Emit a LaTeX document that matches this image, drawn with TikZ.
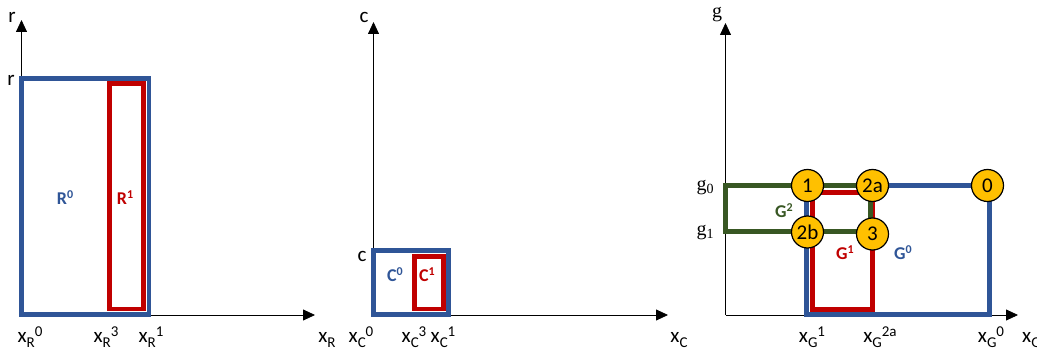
\documentclass[tikz,border=0pt]{standalone}
\usepackage{fontspec}
\setmainfont{Carlito}
\newfontfamily\serifg{Liberation Serif}
\usetikzlibrary{arrows.meta}
\definecolor{setblue}{HTML}{2F5597}
\definecolor{setred}{HTML}{C00000}
\definecolor{setgreen}{HTML}{385723}
\definecolor{setorange}{HTML}{FFC000}
\newcommand{\xlab}[2]{x\raisebox{-5pt}{\fontsize{15}{15}\selectfont #1}\raisebox{6pt}{\fontsize{15}{15}\selectfont #2}}
\newcommand{\setlab}[2]{#1\raisebox{6pt}{\fontsize{12}{12}\selectfont #2}}

\begin{document}
\begin{tikzpicture}[x=1pt,y=-1pt,
  axis/.style={line width=0.8pt,-{Triangle[length=12pt,width=11pt]}},
  lab/.style={font=\fontsize{21}{22}\selectfont,inner sep=0pt},
  glab/.style={font=\serifg\fontsize{20}{22}\selectfont,inner sep=0pt},
  setb/.style={line width=4.6pt,draw=setblue},
  setr/.style={line width=4.6pt,draw=setred},
  setg/.style={line width=4.6pt,draw=setgreen},
  setname/.style={font=\bfseries\fontsize{18}{20}\selectfont,inner sep=0pt},
  vtx/.style={circle,draw=black,line width=1.2pt,fill=setorange,minimum size=32pt,inner sep=0pt,font=\fontsize{21}{22}\selectfont}]
  \useasboundingbox (0,0) rectangle (1037,350);
  % axes
  \foreach \n/\ox/\ex/\ty in {R/21.5/315/20, C/373.5/668/22, G/725.5/1018/23} {
    \coordinate (o\n) at (\ox,315);
    \coordinate (v\n) at (\ox,\ty);
    \coordinate (h\n) at (\ex,315);
    \draw[axis] (o\n) -- (v\n);
    \draw[axis] (o\n) -- (h\n);
  }
  % sets
  \draw[setb] (21.5,78.5) rectangle (149,314.5);
  \draw[setr] (109.5,83.5) rectangle (143.5,309);
  \draw[setb] (373.5,250.5) rectangle (448.5,314.5);
  \draw[setr] (414.5,256.5) rectangle (443.5,309);
  \draw[setb] (806.5,185.5) rectangle (989.5,314.5);
  \draw[setr] (812.5,192.5) rectangle (872.5,309.5);
  \draw[setg] (725.5,185.5) rectangle (870.5,231.5);
  \node[setname,text=setblue] (R0) at (65,198) {\setlab{R}{0}};
  \node[setname,text=setred] (R1) at (125,198) {\setlab{R}{1}};
  \node[setname,text=setblue] (C0) at (395,275) {\setlab{C}{0}};
  \node[setname,text=setred] (C1) at (427,275) {\setlab{C}{1}};
  \node[setname,text=setgreen] (G2) at (784,211) {\setlab{G}{2}};
  \node[setname,text=setred] (G1) at (845,253) {\setlab{G}{1}};
  \node[setname,text=setblue] (G0) at (903,253) {\setlab{G}{0}};
  % corners
  \node[vtx] (p1) at (807.5,185.5) {1};
  \node[vtx] (p2a) at (872.5,185.5) {2a};
  \node[vtx] (p0) at (987.5,185.5) {0};
  \node[vtx] (p2b) at (807.5,232) {2b};
  \node[vtx] (p3) at (872.5,234) {3};
  % labels
  \foreach \x/\s/\t in {30/R/0,106/R/3,151/R/1,361/C/0,414/C/3,443/C/1,812/G/1,880/G/2a,991/G/0}
    \node[lab,anchor=base] (x\s\t) at (\x,342) {\xlab{\s}{\t}};
  \node[lab,anchor=base] (xR) at (327,342) {\xlab{R}{}};
  \node[lab,anchor=base] (xC) at (679,342) {\xlab{C}{}};
  \node[lab,anchor=base west] (xG) at (1022,342) {\xlab{G}{}};
  \node[lab] (rt) at (12,17) {r};
  \node[lab] (rv) at (11,80) {r};
  \node[lab] (ct) at (364,17) {c};
  \node[lab] (cv) at (362,256) {c};
  \node[glab] (gt) at (717,15) {g};
  \node[glab,anchor=base] (g0) at (705,191) {g\raisebox{-3pt}{\fontsize{14}{14}\selectfont 0}};
  \node[glab,anchor=base] (g1) at (705,236) {g\raisebox{-3pt}{\fontsize{14}{14}\selectfont 1}};
\end{tikzpicture}
\end{document}
